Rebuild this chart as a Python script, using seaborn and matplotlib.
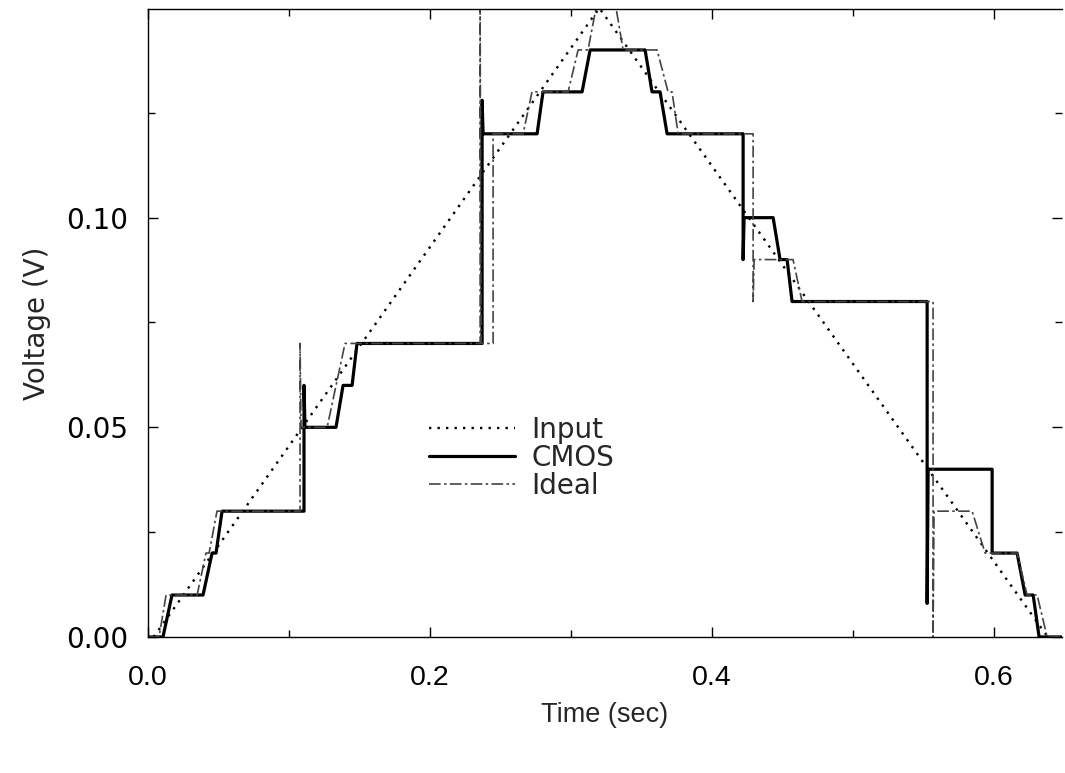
import numpy as np
import pandas as pd
import matplotlib.pyplot as plt
import seaborn as sns
from matplotlib.ticker import MultipleLocator, FormatStrFormatter

# Section 1 (time in sec, voltage in V)

input_t = [0.004, 0.320, 0.638]
input_v = [0.0, 0.150, 0.0]

cmos_t = [0.0, 0.0106, 0.017, 0.039, 0.0454, 0.0482, 0.0525, 0.1106, 0.1106,
          0.1113, 0.1333, 0.1383, 0.1447, 0.1482, 0.2369, 0.2369, 0.2376,
          0.2759, 0.2801, 0.3078, 0.3135, 0.3525, 0.3574, 0.3631, 0.3681,
          0.422, 0.422, 0.4227, 0.4433, 0.4482, 0.4532, 0.4567, 0.5525,
          0.5525, 0.5532, 0.5986, 0.5986, 0.6163, 0.622, 0.6277, 0.6319, 0.648]
cmos_v = [0.0, 0.0, 0.01, 0.01, 0.02, 0.02, 0.03, 0.03, 0.06,
          0.05, 0.05, 0.06, 0.06, 0.07, 0.07, 0.128, 0.12,
          0.12, 0.13, 0.13, 0.14, 0.14, 0.13, 0.13, 0.12,
          0.12, 0.09, 0.10, 0.10, 0.09, 0.09, 0.08, 0.08,
          0.008, 0.04, 0.04, 0.02, 0.02, 0.01, 0.01, 0.0, 0.0]

ideal_t = [0.0, 0.0078, 0.0128, 0.0348, 0.0411, 0.0433, 0.0489, 0.1078, 0.1078,
           0.1085, 0.127, 0.1397, 0.2355, 0.2355, 0.2362, 0.2447, 0.2447,
           0.266, 0.2723, 0.2979, 0.305, 0.312, 0.3177, 0.3319, 0.3369,
           0.361, 0.3688, 0.3716, 0.3759, 0.4291, 0.4291, 0.4298, 0.4574,
           0.4638, 0.5567, 0.5567, 0.5574, 0.5844, 0.5936, 0.6163, 0.6234,
           0.6305, 0.6376, 0.648]
ideal_v = [0.0, 0.0, 0.01, 0.01, 0.02, 0.02, 0.03, 0.03, 0.07,
           0.05, 0.05, 0.07, 0.07, 0.15, 0.07, 0.07, 0.12,
           0.12, 0.13, 0.13, 0.14, 0.14, 0.15, 0.15, 0.14,
           0.14, 0.13, 0.13, 0.12, 0.12, 0.08, 0.09, 0.09,
           0.08, 0.08, 0.0, 0.03, 0.03, 0.02, 0.02, 0.01,
           0.01, 0.0, 0.0]

# Section 2 - Style

sns.set_style("ticks")
plt.rcParams["font.family"] = ["DejaVu Sans"]
plt.rcParams["font.size"] = 20

fig = plt.figure(figsize=(10.65, 7.73), dpi=100)
ax = fig.add_axes([0.139, 0.176, 0.858, 0.812])

# Section 3 - Lines

sns.lineplot(x=input_t, y=input_v, ax=ax, sort=False, estimator=None,
             color="black", linewidth=1.7, linestyle=(0, (1.0, 2.6)),
             label="Input")
sns.lineplot(x=cmos_t, y=cmos_v, ax=ax, sort=False, estimator=None,
             color="black", linewidth=2.3, label="CMOS")
sns.lineplot(x=ideal_t, y=ideal_v, ax=ax, sort=False, estimator=None,
             color="#444444", linewidth=1.2, linestyle=(0, (7, 2, 1.5, 2)),
             label="Ideal")

# Section 4 - Axes

ax.set_xlim(0, 0.648)
ax.set_ylim(0, 0.1497)
ax.xaxis.set_major_locator(MultipleLocator(0.2))
ax.xaxis.set_minor_locator(MultipleLocator(0.1))
ax.yaxis.set_major_locator(MultipleLocator(0.05))
ax.yaxis.set_minor_locator(MultipleLocator(0.025))
ax.xaxis.set_major_formatter(FormatStrFormatter("%.1f"))
ax.yaxis.set_major_formatter(FormatStrFormatter("%.2f"))

ax.tick_params(which="both", direction="in", top=True, right=True,
               width=1.0, colors="black", labelsize=20)
ax.tick_params(which="major", length=7)
ax.tick_params(which="minor", length=5)
ax.tick_params(axis="x", which="major", pad=20)
ax.tick_params(axis="y", which="major", pad=14)
# x axis text in the scan is narrower than the rest
for lbl in ax.get_xticklabels():
    lbl.set_fontfamily("Liberation Sans")
    lbl.set_fontsize(20.5)

ax.spines["right"].set_visible(False)
for s in ["left", "bottom", "top"]:
    ax.spines[s].set_linewidth(1.0)
    ax.spines[s].set_color("black")

ax.set_xlabel("Time (sec)", fontsize=19.5, family="Liberation Sans", labelpad=8)
ax.set_ylabel("Voltage (V)", fontsize=20, labelpad=11)

ax.legend(loc="upper left", bbox_to_anchor=(0.295, 0.37), frameon=False,
          fontsize=20, handlelength=3.1, handletextpad=0.6,
          labelspacing=0.0, borderaxespad=0)

fig.savefig("out.png", dpi=100)
